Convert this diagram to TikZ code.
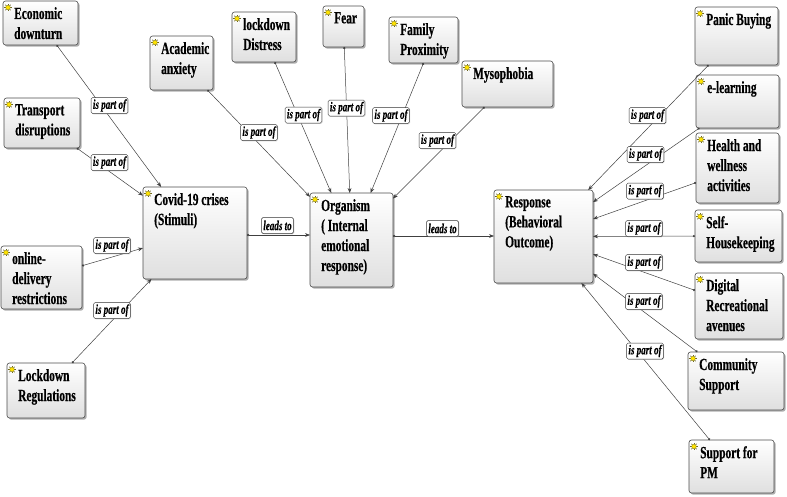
\documentclass[tikz,border=0pt]{standalone}
\usepackage{fontspec}
\setmainfont{Liberation Serif}[FakeStretch=0.67, BoldFeatures={FakeBold=0.5}, BoldItalicFeatures={FakeBold=0.3}]
\usetikzlibrary{arrows.meta,shadows}
\tikzset{
  cbox/.style={draw=gray!60!black, line width=.6pt, rounded corners=2.5pt,
    top color=white, bottom color=gray!25,
    drop shadow={shadow xshift=1.6pt, shadow yshift=-1.6pt, fill=gray!70, opacity=.9},
    inner sep=0pt, outer sep=0pt},
  ctext/.style={font=\fontsize{17}{20}\selectfont\bfseries, align=left, inner sep=0pt, text=black},
  lab/.style={draw=gray!40!black, line width=.5pt, rounded corners=1.5pt, fill=white,
    font=\fontsize{13.5}{15}\selectfont\bfseries\itshape, inner xsep=1.8pt, inner ysep=1.2pt,
    minimum height=16pt,
    drop shadow={shadow xshift=.8pt, shadow yshift=-.8pt, fill=gray!60}},
  rel/.style={draw=black!75, line width=.5pt, {Circle[length=2.2pt]}-{Stealth[length=5pt,width=3.8pt]}},
  sun/.pic={
    \foreach \a in {0,45,...,315} \draw[olive!70!black, line width=.45pt] (\a:2.2pt) -- (\a:3.9pt);
    \fill[yellow!85!orange, draw=olive!80!black, line width=.3pt] (0,0) circle (2.3pt);
  }
}
\newcommand\conceptbox[6]{%
  \node[cbox, minimum width=#4pt, minimum height=#5pt, anchor=north west] (#1) at (#2,#3) {};
  \node[ctext, anchor=north west] (#1-t) at ([xshift=11pt,yshift=-6pt]#1.north west) {#6};
  \pic at ([xshift=5pt,yshift=-6.5pt]#1.north west) {sun};
}
\begin{document}
\begin{tikzpicture}[x=1pt,y=-1pt]
\useasboundingbox (0,0) rectangle (787,496);
% boxes
\conceptbox{eco}{3}{1}{75}{44}{Economic\\downturn}
\conceptbox{trans}{4}{98}{76}{50}{Transport\\disruptions}
\conceptbox{online}{1}{246}{81}{63}{online-\\delivery\\restrictions}
\conceptbox{regs}{7}{363}{78}{55}{Lockdown\\Regulations}
\conceptbox{acad}{150}{36}{63}{54}{Academic\\anxiety}
\conceptbox{ldist}{232}{12}{64}{50}{lockdown\\Distress}
\conceptbox{fear}{323}{6}{41}{41}{Fear}
\conceptbox{fam}{389}{17}{69}{46}{Family\\Proximity}
\conceptbox{myso}{462}{61}{91}{46}{Mysophobia}
\conceptbox{covid}{143}{187}{104}{92}{Covid-19 crises\\(Stimuli)}
\conceptbox{org}{310}{193}{83}{94}{Organism\\( Internal\\emotional\\response)}
\conceptbox{resp}{494}{190}{99}{93}{Response\\(Behavioral\\Outcome)}
\conceptbox{panic}{695}{7}{83}{58}{Panic Buying}
\conceptbox{elearn}{696}{75}{83}{53}{e-learning}
\conceptbox{health}{696}{133}{83}{70}{Health and\\wellness\\activities}
\conceptbox{self}{695}{210}{87}{52}{Self-\\Housekeeping}
\conceptbox{digital}{695}{273}{88}{66}{Digital\\Recreational\\avenues}
\conceptbox{comm}{688}{352}{96}{58}{Community\\Support}
\conceptbox{pm}{689}{440}{85}{53}{Support for\\PM}
% connectors
\draw[rel] (eco) -- (covid);
\draw[rel] (trans) -- (covid);
\draw[rel] (online) -- (covid);
\draw[rel] (regs) -- (covid);
\draw[rel] (acad) -- (org);
\draw[rel] (ldist) -- (org);
\draw[rel] (fear) -- (org);
\draw[rel] (fam.south) -- (org);
\draw[rel] (myso) -- (org);
\draw[rel] (covid.east |- 0,235) -- (org.west |- 0,235);
\draw[rel] (org.east |- 0,236) -- (resp.west |- 0,236);
\draw[rel] (panic) -- (resp);
\draw[rel] (elearn) -- (resp);
\draw[rel] (health) -- (resp);
\draw[rel] (self) -- (resp);
\draw[rel] (digital) -- (resp);
\draw[rel] (comm) -- (resp);
\draw[rel] (pm) -- (resp);
% labels
\node[lab] (l-eco) at (109.5,105.5) {is part of};
\node[lab] (l-trans) at (109.5,162.5) {is part of};
\node[lab] (l-online) at (112,245.5) {is part of};
\node[lab] (l-regs) at (112,310.5) {is part of};
\node[lab] (l-acad) at (259,132.5) {is part of};
\node[lab] (l-ldist) at (303.5,115) {is part of};
\node[lab] (l-fear) at (346.5,108) {is part of};
\node[lab] (l-fam) at (391,115.5) {is part of};
\node[lab] (l-myso) at (437.5,140.5) {is part of};
\node[lab] (l-lead1) at (277.5,225.5) {leads to};
\node[lab] (l-lead2) at (442.5,228.5) {leads to};
\node[lab] (l-panic) at (647.5,115.5) {is part of};
\node[lab] (l-elearn) at (645.5,154.5) {is part of};
\node[lab] (l-health) at (645,191) {is part of};
\node[lab] (l-self) at (644,228.5) {is part of};
\node[lab] (l-dig) at (644,262.5) {is part of};
\node[lab] (l-comm) at (644,301.5) {is part of};
\node[lab] (l-pm) at (645,351) {is part of};
\end{tikzpicture}
\end{document}
